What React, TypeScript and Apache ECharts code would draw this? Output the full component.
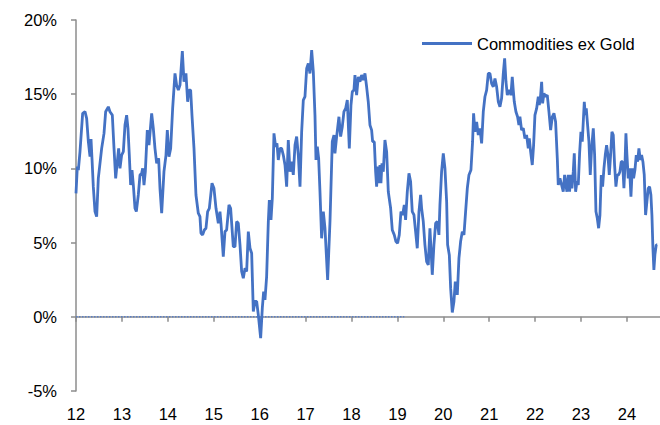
import React, { useEffect, useRef } from "react";
import * as echarts from "echarts";

const seriesName = "Commodities ex Gold";

// decimal year (12 = 2012) and y/y % value
const dates = [
  12.000, 12.029, 12.051, 12.087, 12.145, 12.196, 12.232, 12.269, 12.305, 12.327, 12.348, 12.377, 12.414, 12.450, 12.486, 12.559,
  12.610, 12.646, 12.704, 12.740, 12.791, 12.828, 12.864, 12.900, 12.929, 12.958, 12.994, 13.031, 13.067, 13.103, 13.132, 13.161,
  13.190, 13.220, 13.249, 13.285, 13.314, 13.357, 13.394, 13.430, 13.452, 13.481, 13.510, 13.553, 13.590, 13.648, 13.684, 13.720,
  13.757, 13.800, 13.829, 13.866, 13.916, 13.960, 13.989, 14.025, 14.062, 14.105, 14.156, 14.192, 14.229, 14.265, 14.316, 14.352,
  14.395, 14.432, 14.461, 14.497, 14.526, 14.570, 14.613, 14.664, 14.700, 14.722, 14.758, 14.795, 14.831, 14.867, 14.904, 14.962,
  15.005, 15.049,
  15.100, 15.136, 15.158, 15.208, 15.245, 15.281, 15.332, 15.368, 15.426, 15.463, 15.499, 15.535, 15.572, 15.608, 15.644, 15.681,
  15.717, 15.753, 15.790, 15.826, 15.862, 15.898, 15.935, 15.971, 16.022, 16.058, 16.087, 16.116, 16.152, 16.189, 16.211, 16.247,
  16.276, 16.312, 16.348, 16.377, 16.406, 16.443, 16.479, 16.515, 16.552, 16.588, 16.624, 16.661, 16.697, 16.733, 16.770, 16.806,
  16.842, 16.879, 16.915, 16.951, 16.987, 17.024, 17.060, 17.096, 17.133, 17.169, 17.205, 17.227, 17.256, 17.285, 17.314, 17.350,
  17.387, 17.423, 17.481, 17.532, 17.582, 17.619, 17.640, 17.677, 17.727, 17.764, 17.800, 17.836, 17.873, 17.909, 17.953, 17.989,
  18.018, 18.054, 18.076, 18.112, 18.149, 18.185, 18.221,
  18.258, 18.294, 18.330, 18.366, 18.403, 18.439, 18.461, 18.497, 18.526, 18.548, 18.570, 18.599, 18.621, 18.642, 18.664, 18.693,
  18.729, 18.766, 18.802, 18.853, 18.889, 18.932, 18.969, 19.005, 19.041, 19.078, 19.114, 19.150, 19.179, 19.216, 19.252, 19.288,
  19.324, 19.361, 19.397, 19.433, 19.470, 19.506, 19.528, 19.564, 19.600, 19.637, 19.673, 19.709, 19.731, 19.760, 19.796, 19.833,
  19.869, 19.905, 19.927, 19.963, 20.000, 20.036, 20.073, 20.094, 20.131, 20.160, 20.196, 20.232, 20.261, 20.305, 20.341, 20.377,
  20.414, 20.450, 20.486, 20.523, 20.559, 20.602, 20.638, 20.660, 20.689, 20.726, 20.762, 20.798, 20.835, 20.871, 20.907, 20.944,
  20.980, 21.016, 21.053, 21.089, 21.125, 21.162, 21.198, 21.234, 21.270, 21.307, 21.336, 21.365, 21.394, 21.430,
  21.451, 21.473, 21.502, 21.524, 21.546, 21.582, 21.618, 21.647, 21.669, 21.705, 21.742, 21.778, 21.814, 21.851, 21.873, 21.902,
  21.938, 21.967, 21.996, 22.033, 22.069, 22.091, 22.120, 22.142, 22.163, 22.192, 22.229, 22.265, 22.301, 22.338, 22.374, 22.410,
  22.446, 22.483, 22.504, 22.541, 22.577, 22.613, 22.642, 22.671, 22.693, 22.722, 22.751, 22.773, 22.802, 22.831, 22.853, 22.882,
  22.911, 22.940, 22.969, 22.998, 23.027, 23.049, 23.071, 23.093, 23.114, 23.143, 23.172, 23.201, 23.230, 23.267, 23.296, 23.325,
  23.354, 23.383, 23.412, 23.441, 23.470, 23.499, 23.528, 23.557, 23.586, 23.615, 23.644, 23.673, 23.702, 23.731, 23.760, 23.789,
  23.818, 23.847, 23.876, 23.905, 23.934, 23.956, 23.978, 24.000, 24.028, 24.057, 24.087, 24.116, 24.145, 24.174, 24.203, 24.232,
  24.261, 24.290, 24.319, 24.348, 24.377, 24.406, 24.435, 24.464, 24.493, 24.522, 24.544, 24.566, 24.587, 24.609, 24.638, 24.660,
];

const values = [
  8.32, 10.12, 9.89, 11.13, 13.71, 13.82, 13.37, 11.80, 10.79, 11.98, 10.68, 8.77, 7.09, 6.75, 9.33, 11.35,
  12.36, 13.82, 14.15, 13.82, 13.59, 11.35, 9.33, 10.45, 11.35, 10.00, 10.90, 11.13, 12.92, 13.59, 12.70, 10.90,
  8.88, 9.89, 8.88, 7.31, 7.09, 8.21, 9.56, 9.67, 10.00, 8.88, 9.78, 12.58, 11.57, 13.71, 12.70, 11.35,
  10.34, 10.68, 8.66, 6.98, 9.78, 10.90, 12.58, 10.79, 11.35, 14.04, 16.40, 15.61, 15.28, 15.61, 17.90, 15.84,
  16.40, 14.49, 15.28, 15.28, 13.59, 11.35, 8.21, 6.98, 6.75, 5.63, 5.52, 5.85, 5.97, 7.09, 7.31, 9.00,
  8.66, 7.31,
  6.30, 7.09, 6.30, 4.06, 5.74, 5.85, 7.54, 7.31, 4.73, 4.73, 6.42, 6.30, 4.85, 3.05, 2.60, 3.28,
  3.05, 5.74, 4.62, 4.28, 0.36, 1.03, 1.03, 0.13, -1.44, 0.58, 1.70, 1.14, 2.71, 6.42, 7.87, 6.53,
  7.99, 12.36, 11.46, 11.69, 10.57, 11.35, 11.35, 10.90, 10.23, 8.77, 11.91, 9.78, 10.45, 9.56, 11.57, 12.14,
  10.90, 8.77, 12.47, 14.60, 14.83, 16.73, 17.07, 16.40, 17.97, 16.51, 13.59, 10.57, 11.46, 10.68, 8.43, 5.29,
  7.09, 5.97, 2.49, 6.42, 11.80, 12.25, 11.01, 12.14, 13.48, 12.14, 12.81, 13.82, 14.04, 14.60, 11.35, 14.27,
  15.16, 15.28, 16.29, 14.94, 16.17, 15.84, 16.29,
  15.95, 16.40, 15.50, 14.49, 12.92, 12.58, 11.80, 11.80, 9.78, 8.77, 10.12, 9.00, 10.23, 9.00, 10.34, 9.78,
  11.91, 11.13, 8.43, 7.31, 5.85, 5.52, 5.07, 4.96, 5.52, 7.09, 6.86, 7.54, 6.53, 8.43, 9.67, 9.11,
  7.09, 6.86, 5.74, 4.62, 7.09, 8.21, 7.31, 6.42, 4.85, 3.72, 3.50, 5.97, 4.62, 2.83, 4.85, 6.30,
  6.42, 5.52, 7.54, 9.78, 11.01, 10.00, 7.76, 4.85, 4.17, 1.93, 0.29, 1.03, 2.38, 1.48, 3.95, 5.07,
  5.74, 5.52, 7.09, 8.66, 9.56, 9.89, 11.80, 13.71, 12.47, 13.14, 12.25, 12.70, 11.69, 13.82, 14.83, 15.28,
  16.40, 16.40, 15.72, 15.50, 16.06, 15.50, 14.49, 14.15, 14.72, 16.40, 17.41, 15.84, 14.94, 15.28,
  15.16, 14.94, 16.17, 15.28, 14.49, 13.82, 13.48, 12.92, 13.48, 12.58, 12.70, 12.02, 12.25, 11.35, 12.02, 11.13,
  10.23, 11.57, 13.59, 14.04, 14.83, 14.27, 14.94, 15.84, 14.38, 15.05, 14.83, 14.94, 13.82, 12.58, 13.48, 13.71,
  13.14, 10.68, 8.88, 9.33, 8.88, 8.43, 9.56, 8.88, 8.43, 9.56, 8.43, 9.56, 8.66, 9.78, 11.01, 8.43,
  9.11, 8.88, 11.01, 12.47, 11.80, 13.14, 14.49, 13.59, 14.04, 12.92, 11.80, 9.56, 11.35, 12.70, 10.90, 7.09,
  6.64, 5.97, 6.86, 9.56, 8.77, 10.00, 10.90, 11.57, 10.90, 9.56, 10.90, 12.47, 12.25, 10.23, 8.77, 9.56,
  9.56, 9.78, 10.45, 10.45, 8.66, 10.12, 12.36, 10.90, 9.33, 10.00, 8.10, 10.00, 9.33, 9.89, 10.90, 10.45,
  11.35, 10.57, 10.90, 10.45, 9.56, 6.86, 7.76, 8.66, 8.77, 8.21, 6.86, 4.62, 3.16, 4.17, 4.85, 4.85,
];

const xTicks = [12, 13, 14, 15, 16, 17, 18, 19, 20, 21, 22, 23, 24];
const xRange = [12, 24.72];
const yRange = [-5, 20];
const yStep = 5;
const zeroLineDates = [12, 19.15];

const FONT = "'Liberation Sans', Arial, sans-serif";
const LINE_COLOR = "#4472c4";
const AXIS_COLOR = "#8c8c8c";

export default function App() {
  const ref = useRef<HTMLDivElement>(null);

  useEffect(() => {
    if (!ref.current) return;
    const chart = echarts.init(ref.current, null, { renderer: "svg" });
    const lineData = dates.map((d, i) => [d, values[i]]);
    const zeroData = zeroLineDates.map((d) => [d, 0]);

    chart.setOption({
      animation: false,
      backgroundColor: "#ffffff",
      grid: { left: 76, right: 0, top: 20, bottom: 34, containLabel: false, outerBoundsMode: "none" },
      legend: {
        data: [seriesName],
        left: 417,
        top: 30,
        icon: "rect",
        itemWidth: 50,
        itemHeight: 2.8,
        itemGap: 5,
        itemStyle: { color: LINE_COLOR },
        textStyle: { fontFamily: FONT, fontSize: 16.5, color: "#000" },
      },
      xAxis: {
        type: "value",
        min: xRange[0],
        max: xRange[1],
        axisLine: { show: true, onZero: true, lineStyle: { color: AXIS_COLOR, width: 1.5 } },
        axisTick: { show: true, length: 5, customValues: xTicks, lineStyle: { color: AXIS_COLOR, width: 1.5 } },
        axisLabel: {
          customValues: xTicks,
          margin: 14,
          fontFamily: FONT,
          fontSize: 16.5,
          color: "#000",
        },
        splitLine: { show: false },
      },
      yAxis: {
        type: "value",
        min: yRange[0],
        max: yRange[1],
        interval: yStep,
        axisLine: { show: true, lineStyle: { color: AXIS_COLOR, width: 1.5 } },
        axisTick: { show: true, length: 5, lineStyle: { color: AXIS_COLOR, width: 1.5 } },
        axisLabel: {
          formatter: "{value}%",
          margin: 19,
          fontFamily: FONT,
          fontSize: 16.5,
          color: "#000",
        },
        splitLine: { show: false },
      },
      series: [
        {
          name: "zero",
          type: "line",
          data: zeroData,
          symbol: "none",
          silent: true,
          lineStyle: { color: "#5b7fc4", width: 1.5, type: [1.5, 1.5] },
          z: 1,
        },
        {
          name: seriesName,
          type: "line",
          data: lineData,
          symbol: "none",
          showSymbol: false,
          lineStyle: { color: LINE_COLOR, width: 2.8 },
          itemStyle: { color: LINE_COLOR },
          z: 3,
        },
      ],
    });
    return () => chart.dispose();
  }, []);

  return (
    <div
      ref={ref}
      style={{ position: "fixed", left: 0, top: 0, width: 660, height: 425, background: "#fff" }}
    />
  );
}
